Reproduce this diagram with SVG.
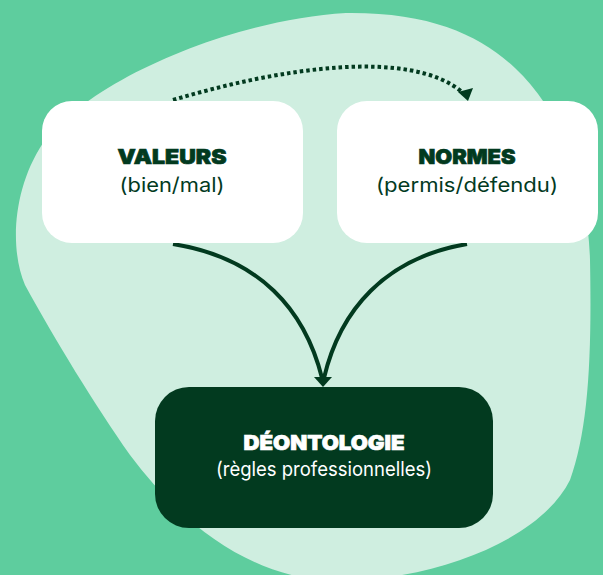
<svg xmlns="http://www.w3.org/2000/svg" width="603" height="575" viewBox="0 0 603 575">
<defs>
<style>
.title{font-family:Inter,"Liberation Sans",sans-serif;font-weight:900;font-size:20px;text-anchor:middle;stroke-width:0.7px}
.sub{font-family:Inter,"Liberation Sans",sans-serif;font-weight:400;font-size:20px;text-anchor:middle}
.dark{fill:#023a1f}
.title.dark{stroke:#023a1f}
.light{fill:#ffffff}
.title.light{stroke:#ffffff}
.box{fill:#ffffff}
.conn{fill:none;stroke:#023a1f;stroke-width:4}
</style>
</defs>
<rect x="0" y="0" width="603" height="575" fill="#5ecd9e"/>
<path d="M346,13 C430,12 480,35 515,68 C560,110 588,180 590,260 C592,360 588,430 570,480 C545,530 470,565 390,577 L300,577 C230,562 175,515 130,455 C95,405 55,340 25,285 C10,250 12,190 43,143 C90,80 230,20 346,13 Z" fill="#cfeee0"/>
<g id="connectors">
<path class="conn" d="M173,244 C260,258 305,310 322,378"/>
<path class="conn" d="M467,244 C385,258 340,310 324,378"/>
<polygon points="314,377 332,377 323,387" fill="#023a1f"/>
<path class="conn" d="M173,100 C280,68 410,48 462,92" stroke-dasharray="3.5 3"/>
<polygon points="458,92 473,88 468,101" fill="#023a1f"/>
</g>
<g id="valeurs">
<rect class="box" x="42" y="101" width="261" height="142" rx="30"/>
<text class="title dark" x="172" y="164" textLength="109" lengthAdjust="spacingAndGlyphs">VALEURS</text>
<text class="sub dark" x="172" y="192" textLength="105" lengthAdjust="spacingAndGlyphs">(bien/mal)</text>
</g>
<g id="normes">
<rect class="box" x="337" y="101" width="261" height="142" rx="30"/>
<text class="title dark" x="467" y="164" textLength="97" lengthAdjust="spacingAndGlyphs">NORMES</text>
<text class="sub dark" x="467" y="192" textLength="182" lengthAdjust="spacingAndGlyphs">(permis/défendu)</text>
</g>
<g id="deontologie">
<rect x="155" y="387" width="338" height="141" rx="34" fill="#023a1f"/>
<text class="title light" x="324" y="450" textLength="161" lengthAdjust="spacingAndGlyphs">DÉONTOLOGIE</text>
<text class="sub light" x="324" y="476" textLength="216" lengthAdjust="spacingAndGlyphs">(règles professionnelles)</text>
</g>
</svg>
